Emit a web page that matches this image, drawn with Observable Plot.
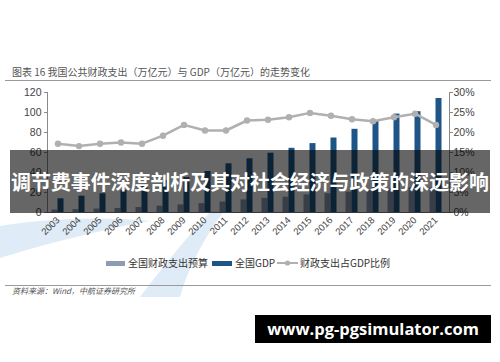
<!DOCTYPE html>
<html>
<head>
<meta charset="utf-8">
<script src="https://cdn.jsdelivr.net/npm/d3@7"></script>
<script src="https://cdn.jsdelivr.net/npm/@observablehq/plot@0.6"></script>
<style>
  html, body { margin: 0; padding: 0; background: #fff; }
  #wrap { position: relative; width: 500px; height: 362px; overflow: hidden; background: #fff; font-family: "Noto Sans CJK SC", "Liberation Sans", sans-serif; }
  .abs { position: absolute; }
  #wm { left: 0; top: 0; z-index: 0; }
  #title { left: 12px; top: 66px; font-size: 10px; line-height: 12px; color: #555; white-space: nowrap; z-index: 2; }
  #rule1 { left: 5px; top: 80px; width: 486px; height: 0; border-top: 1.5px solid #9a9a9a; z-index: 2; }
  #chart { left: 0; top: 82px; z-index: 1; }
  #legend { left: 0; top: 256px; width: 500px; height: 14px; z-index: 2; font-size: 10px; color: #333; }
  #legend .item { position: absolute; top: 0; line-height: 14px; white-space: nowrap; }
  #legend .sw { position: absolute; top: 4.5px; height: 5px; }
  #rule2 { left: 5px; top: 284.5px; width: 486px; height: 0; border-top: 1.2px solid #9a9a9a; z-index: 2; }
  #source { left: 12px; top: 285px; font-size: 8px; line-height: 11px; color: #555; font-style: italic; white-space: nowrap; z-index: 2; }
  #banner { left: 10px; top: 150px; width: 480px; height: 63px; background: rgba(0,0,0,0.6); z-index: 5; overflow: visible; }
  #bannerText { position: absolute; left: 0; top: 0; height: 63px; line-height: 63px; color: #fff; font-family: "Noto Sans CJK SC", sans-serif; font-weight: bold; font-size: 20px; white-space: nowrap; }
  #url { left: 255px; top: 315px; width: 236px; height: 28px; background: #000; color: #fff; z-index: 5; font-family: "Open Sans", "Liberation Sans", sans-serif; font-weight: bold; font-size: 16.5px; line-height: 28px; text-align: center; white-space: nowrap; }
</style>
</head>
<body>
<div id="wrap">
  <svg id="wm" class="abs" width="500" height="362">
    <path d="M0,226 C45,219 95,216 150,221 C100,230 45,244 0,258 Z" fill="#dfecf7"/>
    <path d="M211,211 L224,211 C203,240 188,268 180,297 L140,297 C162,268 186,238 211,211 Z" fill="#dfecf7"/>
  </svg>
  <div id="title" class="abs">图表 16 我国公共财政支出（万亿元）与 GDP（万亿元）的走势变化</div>
  <div id="rule1" class="abs"></div>
  <div id="chart" class="abs"></div>
  <div id="legend" class="abs"></div>
  <div id="rule2" class="abs"></div>
  <div id="source" class="abs">资料来源：Wind，中航证券研究所</div>
  <div id="banner" class="abs"><span id="bannerText">调节费事件深度剖析及其对社会经济与政策的深远影响</span></div>
  <div id="url" class="abs">www.pg-pgsimulator.com</div>
</div>
<script>
// ---- data ----
const years = ["2003","2004","2005","2006","2007","2008","2009","2010","2011","2012","2013","2014","2015","2016","2017","2018","2019","2020","2021"];
const spending = [2.5, 2.8, 3.4, 4.0, 5.0, 6.3, 7.6, 8.9, 10.5, 12.6, 14.2, 15.3, 17.6, 18.8, 20.3, 22.1, 23.9, 24.6, 24.6];
const gdp = [13.7, 16.3, 18.7, 21.9, 27.0, 31.9, 34.9, 41.0, 48.7, 53.7, 59.3, 64.2, 68.9, 74.5, 83.2, 91.2, 98.4, 100.8, 114.0];
const ratio = [17.2, 16.6, 17.2, 17.5, 17.2, 19.2, 21.9, 20.5, 20.5, 23.0, 23.2, 23.8, 24.9, 24.2, 23.3, 22.8, 23.8, 24.7, 21.9];
const leftTicks = [0, 20, 40, 60, 80, 100, 120];
const seriesNames = ["全国财政支出预算", "全国GDP", "财政支出占GDP比例"];
const colors = ["#8d9bb3", "#1f5586", "#b0b0b0"];

const rows = years.map((y, i) => ({year: y, spend: spending[i], gdp: gdp[i], ratio: ratio[i]}));
// right axis: 0–30% shares the 0–120 range of the left axis
const pct = d => d.ratio * 4;

const chart = Plot.plot({
  width: 500,
  height: 170,
  marginLeft: 47,
  marginRight: 51,
  marginTop: 10,
  marginBottom: 40,
  style: {fontFamily: "Liberation Sans, Arial, sans-serif", fontSize: "10.5px", color: "#444", background: "transparent", overflow: "visible"},
  x: {domain: years, range: [47, 446], padding: 0, label: null},
  y: {domain: [0, 120], label: null},
  marks: [
    Plot.barY(rows, {x: "year", y: "spend", fill: colors[0], insetLeft: 4.5, insetRight: 10.5}),
    Plot.barY(rows, {x: "year", y: "gdp", fill: colors[1], insetLeft: 10.5, insetRight: 4.5}),
    Plot.frame({anchor: "left", stroke: "#8a8a8a"}),
    Plot.frame({anchor: "right", stroke: "#8a8a8a"}),
    Plot.frame({anchor: "bottom", stroke: "#8a8a8a"}),
    Plot.axisY({anchor: "left", ticks: leftTicks, tickSize: 3, tickPadding: 3, label: null, stroke: "#8a8a8a"}),
    Plot.axisY({anchor: "right", ticks: leftTicks, tickFormat: d => (d / 4) + "%", tickSize: 3, tickPadding: 1, label: null, stroke: "#8a8a8a"}),
    Plot.axisX({tickRotate: -45, tickSize: 0, tickPadding: 6, label: null, fontSize: 9.5}),
    Plot.line(rows, {x: "year", y: pct, stroke: colors[2], strokeWidth: 2.5}),
    Plot.dot(rows, {x: "year", y: pct, fill: colors[2], r: 3.2})
  ]
});
document.getElementById("chart").appendChild(chart);

// ---- fit banner text to the banner width ----
const bt = document.getElementById("bannerText");
const target = 478;
const w0 = bt.getBoundingClientRect().width;
if (w0 > 0) {
  const fs = Math.min(21, 20 * target / w0);
  bt.style.fontSize = fs + "px";
}
const w1 = bt.getBoundingClientRect().width;
bt.style.left = ((480 - w1) / 2) + "px";

// ---- legend ----
const lg = document.getElementById("legend");
const legendItems = [
  {type: "bar", color: colors[0], swX: 106, swW: 19, textX: 128, name: seriesNames[0]},
  {type: "bar", color: colors[1], swX: 212, swW: 20, textX: 235, name: seriesNames[1]},
  {type: "line", color: colors[2], swX: 277, swW: 21, textX: 300, name: seriesNames[2]}
];
legendItems.forEach(it => {
  if (it.type === "bar") {
    const s = document.createElement("div");
    s.className = "sw";
    s.style.left = it.swX + "px";
    s.style.width = it.swW + "px";
    s.style.background = it.color;
    lg.appendChild(s);
  } else {
    const s = document.createElementNS("http://www.w3.org/2000/svg", "svg");
    s.setAttribute("width", it.swW);
    s.setAttribute("height", 14);
    s.style.position = "absolute";
    s.style.left = it.swX + "px";
    s.style.top = "0px";
    s.innerHTML = `<line x1="0" y1="7" x2="${it.swW}" y2="7" stroke="${it.color}" stroke-width="2"/><circle cx="${it.swW/2}" cy="7" r="2.6" fill="${it.color}"/>`;
    lg.appendChild(s);
  }
  const t = document.createElement("div");
  t.className = "item";
  t.style.left = it.textX + "px";
  t.textContent = it.name;
  lg.appendChild(t);
});
</script>
</body>
</html>
